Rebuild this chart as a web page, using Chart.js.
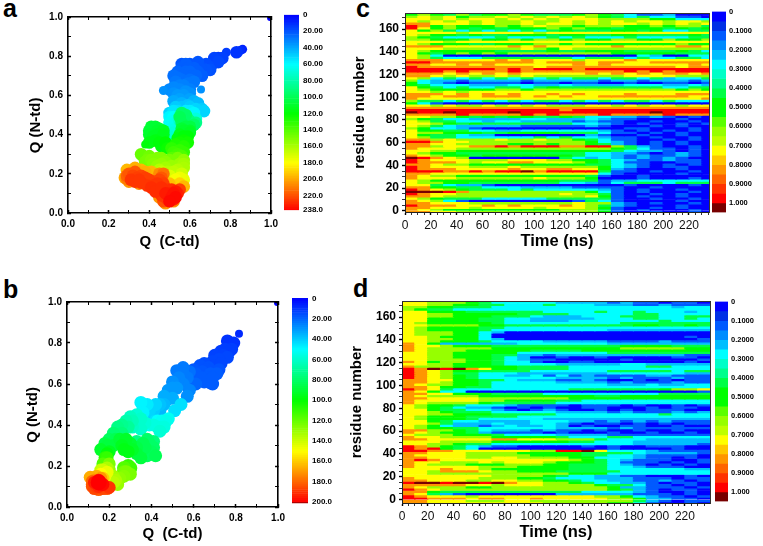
<!DOCTYPE html>
<html><head><meta charset="utf-8">
<style>
html,body{margin:0;padding:0;background:#fff;width:763px;height:546px;overflow:hidden}
canvas{position:absolute;filter:blur(0.35px)}
.tag{position:absolute;font:bold 25px "Liberation Sans",Arial,sans-serif;color:#000;line-height:normal}
</style>
<script src="https://cdn.jsdelivr.net/npm/chart.js@4"></script>
</head><body>
<span class="tag" style="left:3px;top:-6px">a</span>
<span class="tag" style="left:3px;top:275px">b</span>
<span class="tag" style="left:356px;top:-6px">c</span>
<span class="tag" style="left:353px;top:274px">d</span>
<script>
// ---------- DATA ----------
// [Q(C-td), Q(N-td), time, optional marker radius]
const pointsA = [[.995,.995,0,3],[.86,.835,8,4.5],[.85,.83,10,4.5],[.83,.82,12],[.78,.82,14,4.5],[.74,.79,14],[.72,.79,16],[.76,.79,15],[.71,.76,16],[.74,.77,17],[.68,.76,18],[.66,.74,19],[.64,.77,20],[.6,.76,20],[.58,.76,22],[.62,.74,22],[.56,.74,22],[.54,.72,24],[.52,.70,26],[.58,.72,24],[.6,.72,24],[.64,.72,22],[.68,.73,20],[.56,.68,26],[.6,.68,26],[.53,.67,28],[.62,.67,28],[.66,.7,22],[.57,.65,30],[.52,.64,32],[.47,.625,34,4.5],[.5,.63,32],[.55,.63,32],[.6,.63,30],[.655,.63,34,4],[.54,.6,36],[.57,.6,36],[.6,.58,38],[.52,.57,40],[.56,.56,42],[.62,.57,42],[.64,.56,44],[.56,.54,46],[.66,.53,48],[.67,.52,50],[.6,.54,48],[.63,.53,50],[.5,.51,50],[.54,.52,52],[.58,.52,56],[.62,.51,58],[.52,.49,60],[.63,.48,68],[.5,.46,62],[.53,.46,64],[.6,.47,84],[.63,.46,88],[.51,.43,64],[.54,.42,66],[.52,.38,68],[.51,.36,70],
[.56,.76,20],[.59,.74,22],[.61,.7,24],[.57,.7,24],[.54,.69,26],[.65,.74,20],[.69,.75,18],[.7,.73,19],[.63,.7,24],[.59,.66,28],[.55,.65,30],[.52,.61,34],[.58,.62,34],[.6,.61,34],[.55,.58,38],[.59,.55,46],[.53,.54,48],
[.52,.52,54],[.58,.5,60],[.6,.52,56],[.52,.47,62],[.5,.49,58],[.55,.47,72],[.53,.43,66],[.52,.41,68],[.5,.39,70],
[.55,.49,100],[.58,.5,96],[.56,.46,100],[.6,.44,104],[.45,.43,104],[.4,.42,108],[.43,.44,108],[.47,.42,112],[.42,.39,112],[.46,.38,114],[.38,.35,118,4],[.47,.35,118],[.45,.36,118],[.49,.33,122],[.57,.42,110],[.6,.42,110],[.55,.4,114],[.59,.39,118],[.57,.37,122],[.53,.35,126],[.57,.34,128],[.55,.32,132],[.52,.31,134],[.56,.29,138],[.51,.28,140],
[.56,.51,96],[.59,.48,90],[.62,.45,96],[.58,.44,104],[.56,.43,108],[.6,.41,112],[.54,.38,116],[.57,.39,118],[.59,.36,124],[.55,.36,124],[.51,.33,130],[.54,.3,136],[.57,.31,132],[.53,.28,140],
[.41,.44,108],[.44,.42,110],[.4,.4,110],[.44,.4,112],[.47,.4,114],[.43,.37,116],[.46,.34,118],[.48,.36,120],[.4,.36,116],
[.37,.29,144],[.4,.29,146],[.38,.26,148],[.43,.27,150],[.46,.28,150],[.48,.26,152],[.44,.24,155],[.48,.23,158],[.51,.24,156],[.55,.25,156],[.57,.27,154],[.57,.23,160],[.52,.21,164],[.56,.2,168],[.46,.21,166],[.57,.17,175],[.53,.17,178],
[.36,.3,144],[.39,.27,148],[.41,.27,150],[.44,.28,150],[.42,.25,152],[.46,.25,154],[.5,.27,148],[.54,.28,148],[.49,.21,162],[.54,.22,162],[.57,.25,158],[.45,.22,162],[.5,.19,172],[.55,.18,176],
[.55,.15,190],[.57,.135,196],[.5,.15,194],[.48,.13,196],[.46,.11,198],[.29,.22,196],[.33,.23,198],[.38,.21,198],[.41,.21,196],[.28,.18,200],[.3,.16,204],[.35,.15,206],[.45,.08,204],[.48,.05,204],[.52,.06,206],[.45,.2,206],[.36,.22,196],[.42,.2,196],
[.47,.2,212],[.3,.2,218],[.46,.18,218],[.32,.19,222],[.46,.16,222],[.34,.18,224],[.37,.17,224],[.31,.17,226],[.36,.155,226],[.39,.14,226],[.44,.15,226],[.48,.08,226],[.41,.13,228],[.43,.11,228],[.46,.13,228],[.5,.1,230],[.53,.11,232],[.48,.1,232],[.51,.08,234],[.52,.1,234],[.53,.08,236],[.5,.06,236],
[.29,.19,216],[.29,.175,210],[.33,.21,218],[.36,.19,222],[.38,.18,224],[.4,.17,224],[.33,.16,226],[.35,.17,226],[.42,.14,226],[.44,.12,226],[.47,.15,224],[.45,.17,222],[.46,.09,226],[.47,.06,220],[.49,.07,226],[.52,.07,230],[.54,.1,230],[.55,.12,224],[.51,.12,228],[.49,.12,226],[.47,.12,224]];

const pointsB = [[.995,.995,0,3],[.815,.845,8,4],[.76,.81,10],[.79,.8,10],[.78,.77,12],[.75,.77,12],[.73,.76,12],[.7,.74,13],[.76,.73,14],[.72,.72,14],[.69,.71,14],[.65,.7,15],[.63,.69,16],[.67,.68,16],[.6,.67,17],[.72,.67,16],[.64,.66,17],[.68,.65,18],[.71,.65,18],[.62,.63,18],[.66,.63,18],[.68,.605,18],[.69,.6,18],[.65,.61,18],[.61,.6,20],
[.66,.67,16],[.7,.69,14],[.61,.65,18],[.74,.74,13],[.77,.76,12],[.73,.7,14],[.64,.63,18],[.69,.63,18],
[.55,.68,24],[.52,.665,24],[.58,.66,22],[.57,.63,24],[.55,.6,26],[.58,.57,26],[.57,.54,28],[.5,.61,28],[.53,.63,26],[.48,.57,30],[.52,.58,30],[.46,.54,34],[.5,.53,34],[.54,.5,44],[.51,.47,44],[.46,.5,36],[.44,.47,36],[.42,.5,42],[.38,.5,46],[.35,.51,48],[.36,.46,48],[.38,.43,40],[.41,.44,38],[.45,.42,52],[.47,.42,54],[.48,.43,52],[.43,.39,56],[.44,.37,58],[.41,.4,56],[.35,.43,60],[.3,.44,62],[.34,.41,58],[.28,.42,66],[.31,.39,62],[.35,.38,60],[.24,.39,74],[.22,.36,78],[.26,.36,76],[.33,.32,74],[.41,.32,76],[.38,.33,80],[.41,.29,80],[.2,.33,82],[.38,.25,82],[.35,.27,84],[.37,.29,84],[.42,.25,84],[.18,.31,86],[.22,.3,88],[.33,.26,88],[.16,.28,92],[.28,.33,92],[.31,.28,92],[.26,.3,94],[.27,.28,96],[.19,.26,98],
[.52,.6,26],[.55,.65,24],[.5,.58,30],[.47,.52,34],[.44,.5,38],[.41,.47,40],[.39,.47,42],[.36,.49,46],[.42,.42,44],[.39,.4,52],[.46,.39,56],[.43,.42,50],[.37,.41,58],[.33,.45,58],[.31,.42,64],[.29,.39,70],[.26,.4,72],[.23,.33,84],[.19,.3,88],[.2,.27,94],[.25,.33,90],[.3,.31,90],[.29,.27,96],[.36,.31,84],[.39,.31,80],[.4,.27,82],[.35,.24,88],[.33,.29,86],
[.18,.24,108],[.19,.24,110],[.29,.2,110,7],[.17,.21,116],[.27,.19,116,7],[.3,.19,112,7],[.27,.17,122,7],[.2,.21,124],[.3,.16,124],[.28,.17,124,7],[.27,.15,126],[.2,.18,128],[.25,.14,128],[.24,.11,130],[.22,.15,132],[.19,.19,134],[.23,.13,134],[.22,.12,136],[.16,.18,138],[.17,.18,140],[.18,.15,146],[.18,.16,146],[.19,.17,146],[.16,.16,150],[.17,.14,160],[.14,.15,165],[.11,.145,166],[.16,.14,170],[.13,.13,172],[.12,.11,180],[.12,.125,180],[.15,.085,182],[.19,.09,184],[.12,.1,184],[.13,.09,186],[.17,.09,186],[.14,.1,188],[.2,.095,190],[.14,.12,192],[.15,.1,192],[.13,.12,194],[.16,.11,194],[.15,.13,196],[.17,.11,198],[.15,.12,200,8]];

const barTicksA = [0,20,40,60,80,100,120,140,160,180,200,220,238];
const barLabelsA = ["0","20.00","40.00","60.00","80.00","100.0","120.0","140.0","160.0","180.0","200.0","220.0","238.0"];
const barTicksB = [0,20,40,60,80,100,120,140,160,180,200];
const barLabelsB = ["0","20.00","40.00","60.00","80.00","100.0","120.0","140.0","160.0","180.0","200.0"];
const barTicksHeat = [0,.1,.2,.3,.4,.5,.6,.7,.8,.9,1];
const barLabelsHeat = ["0","0.1000","0.2000","0.3000","0.4000","0.5000","0.6000","0.7000","0.8000","0.9000","1.000"];
const stepColors = ["#0000ff","#0030e6","#005aff","#008cff","#00beff","#00ffff","#00ffc8","#00ff8c","#00ff46","#00ff00","#00ff00","#5aff00","#96ff00","#beff00","#ffff00","#ffc800","#ff9600","#ff6400","#ff3200","#ff0000","#780000"];
// digit code of a heat cell -> value
const cellValues = {0:0,1:.1,2:.2,3:.25,4:.4,5:.5,6:.6,7:.7,8:.8,9:.95,X:1};
const timeCols = [5,15,25,35,45,55,65,75,85,95,105,115,125,135,145,155,165,175,185,195,205,215,225,235];

// one string per 2 residues, top row first; one character per 10 ns
const rowsC = [
"565464556544456543112000","676756676767676543433110","776767767676777666655333","767676766766767676776776","887776766767767677676767",
"985655565676656665565664","975654545556565545554545","756434343434544455453344","777767777767777777777777","765545445554554455444454",
"654333343334343334333344","665556556566565566556556","777677777777777777777777","765554455566565555555655","888777778787777787777887",
"777666666765766666666666","765555544445445554444543","754565656666666655555444","763000000000000000320033","764333444444434443433443",
"888777787877767778777777","998888888878887887788888","887787877777787877777787","988888888878888888888788","999999989899989999999999",
"999898889888888889898999","888787878777778787878878","887676676766666667777666","763434343434344344342334","632212222122222122122212",
"532101111011011001001101","543332223322322223332232","754343344345444444443344","765555566566666666666565","776767777777777777777777",
"888787878778787778777888","887887888787877888888877","877777777777777777777778","644343434344343434434333","531000000000000000000000",
"776766767676667767677677","888888888888888888888888","999999999999899999999999","X99X9999X9999999999X9999","888898888989888988889888",
"776654545544543322121010","654332222332223211000100","764433233222212110010010","776545444444433210100101","764322222111112100010100",
"653321000000000001100010","755443322333333210101010","766555445555444311010100","754432200000002100100100","764433333343433211010010",
"886766676676654311001010","998776666666665321010100","887766665565665421010100","886778898999889964210010","877766666666666654311010",
"776655555555555543221010","765544444444443322101210","876554555555543321211210","X98760000000432321212100","987776667776655432112110",
"988876778877765431100110","887665555555554432101010","987776667666666532101100","988877778778877521000100","999889899X89999411010010",
"887777777777777310000100","876655555555554100100000","877766666676665000100010","765555555555444122333333","766554444444332134443444",
"774322100000000001000010","885544333222211110010000","987654443433333210100100","XXX986666666665310100010","987766666666766410010100",
"887666666666667510100100","765444333334444410010010","876310000000014310000100","887776666666676621010010","988877878777876421000100",
"887776777767776510010100","876555555555666410100010","887766666666666510010010"];

const rowsD = [
"776665433333222212110110","776655443334333222112111","665544433333333333333233","654433333333333333333333","775554444443333433433323",
"776655555444433333443333","776655544432223334443344","775555443322222333443343","775555443322233333334333","765555543333333334444444",
"776666554444444444554454","765555443333333333333333","765555433333333322222222","766655320000000000000000","766655300000000000000000",
"776555300000000000000010","776655320000000000000001","776555433332222211112111","875222222333333322222222","877655544444444445555444",
"876666655555555556666655","876665555544445555555555","776655555333333344444444","776655544221222222222211","776655543200100100000110",
"776665543211000001000001","875665543310011000000010","776655543333222223322222","866655555444433333344333","98X9X8755444433333333333",
"987655444433333344444344","987644333222222233333322","987654332231312111122111","987654333333222212111211","887755443222112100101011",
"887655433333222212111211","876655433333333322232233","887554433333333333333333","987433333333344444445667","875330000000000000000001",
"887755544443333333334444","876666555555555445555555","887777666666655555555555","877777665555443333333333","876666544444333333333333",
"765543332111101110100101","765432210101001100010110","775443321012100101011100","776544433333222212111212","776655544444333333334333",
"765554444333333333333333","765554333332222222222222","775433222233322121212111","776422232233210110101011","765322123223201001100100",
"765544333333222212111111","886654322212110100100100","876554211110100010010010","766655543333222211111111","877666655555433344333333",
"887777788777666433322222","777666655555544333222222","776654433333333333222221","986543211000001010011100","989543000000000010000100",
"99887777776699X733321111","887776666555554444322221","877776666655554433211110","887776677666655333211010","898777777777765432111001",
"877666767776555431110101","876665556665544432101010","877777666555544433211100","777877655555544433333322","776888766555444443333333",
"776666666666655533333333","777777766665433221100010","877777666554333222111011","887776677665543322112101","9XX9XX9X8776654332210110",
"888887767776666544311010","876665566666666652211101","987666666666666654210110","885444444444443333210010","874210000000222222111010",
"987776777777777665321101","998887887787777766522110","887776667766666666421011","887777777776666655310010"];

// ---------- HELPERS ----------
const FAM = '"Liberation Sans",Arial,sans-serif';
const PAD_T = 8, PAD_R = 14;
function mk(left, top, w, h){
  const c = document.createElement('canvas');
  c.width = w; c.height = h;
  c.style.left = left + 'px'; c.style.top = top + 'px';
  c.style.width = w + 'px'; c.style.height = h + 'px';
  document.body.appendChild(c);
  return c.getContext('2d');
}
const fixW = w => s => { s.width = w; };
const fixH = h => s => { s.height = h; };
const base = { responsive:false, animation:false, events:[], plugins:{legend:{display:false},tooltip:{enabled:false}} };
function jet(t, stops){
  const cols = [[0,0,255],[0,255,255],[0,255,0],[255,255,0],[255,0,0]];
  let i = 0; while (i < 3 && t > stops[i+1]) i++;
  const f = Math.min(1, Math.max(0, (t - stops[i]) / (stops[i+1] - stops[i])));
  const c = cols[i].map((v,k) => Math.round(v + (cols[i+1][k]-v)*f));
  return `rgb(${c})`;
}
function geom(g){
  const lh = g.titleLH;
  const L = g.yTitleX - lh/2, W = g.l - L;
  const H = g.xTitleY + lh/2 - g.b;
  return {L, W, H, top:g.t - PAD_T, cw:g.r + PAD_R - L, ch:PAD_T + (g.b - g.t) + H};
}
const qTicks = [0,.1,.2,.3,.4,.5,.6,.7,.8,.9,1];

function scatterPanel(g, pts, stops, radius, xTitle, yTitle){
  const m = geom(g);
  const sorted = pts.slice().sort((a,b)=>a[2]-b[2]);
  const setQ = s => { s.ticks = qTicks.map(v=>({value:v})); };
  const grid = {drawOnChartArea:false, color:'#000', tickLength:-3, z:1,
                tickWidth:c=>c.index%2===0?1.5:1};
  const lab = (v,i)=> i%2===0 ? v.toFixed(1) : '';
  const tickFont = {family:FAM, weight:'bold', size:10};
  const title = (text)=>({display:true,text,color:'#000',padding:0,font:{family:FAM,weight:'bold',size:15}});
  new Chart(mk(m.L,m.top,m.cw,m.ch),{
    type:'scatter',
    data:{datasets:[{
      data:sorted.map(p=>({x:p[0],y:p[1]})),
      backgroundColor:sorted.map(p=>jet(p[2],stops)),
      pointRadius:sorted.map(p=>p[3]||radius),
      borderWidth:0
    }]},
    options:{...base,layout:{padding:{top:PAD_T,right:PAD_R,left:0,bottom:0}},
      scales:{
        x:{type:'linear',min:0,max:1,position:'bottom',afterBuildTicks:setQ,afterFit:fixH(m.H),
           grid,border:{color:'#000',width:1.6,z:1},title:title(xTitle),
           ticks:{color:'#000',font:tickFont,padding:8,maxRotation:0,autoSkip:false,callback:lab}},
        y:{type:'linear',min:0,max:1,position:'left',afterBuildTicks:setQ,afterFit:fixW(m.W),
           grid,border:{color:'#000',width:1.6,z:1},title:title(yTitle),
           ticks:{color:'#000',font:tickFont,padding:8,autoSkip:false,callback:lab}},
        x2:{type:'linear',axis:'x',min:0,max:1,position:'top',afterBuildTicks:setQ,afterFit:fixH(0),
            grid,border:{color:'#000',width:1.6,z:1},ticks:{display:false,autoSkip:false}},
        y2:{type:'linear',axis:'y',min:0,max:1,position:'right',afterBuildTicks:setQ,afterFit:fixW(0),
            grid,border:{color:'#000',width:1.6,z:1},ticks:{display:false,autoSkip:false}}
      }}
  });
}

function heatPanel(g, rows, yMin, xMax, topRes){
  const m = geom(g);
  const cellW = 10*(g.r-g.l)/xMax + 0.6;
  const datasets = rows.map((row,i)=>{
    const hi = topRes - 2*i, lo = hi - 2;
    const chars = row.split('');
    return {
      data:chars.map((ch,j)=>({x:timeCols[j],y:[lo,hi]})),
      backgroundColor:chars.map(ch=>stepColors[Math.round(cellValues[ch]/.05)]),
      borderWidth:0,grouped:false,barThickness:cellW
    };
  });
  const xT=[]; for(let v=0;v<=xMax;v+=5) xT.push(v);
  const yT=[]; for(let v=0;v<=172;v+=5) yT.push(v);
  const gridBase = {drawOnChartArea:false,color:'#000',tickLength:3,z:1,offset:false};
  const title = (text,size)=>({display:true,text,color:'#000',padding:0,font:{family:FAM,weight:'bold',size}});
  new Chart(mk(m.L,m.top,m.cw,m.ch),{
    type:'bar',
    data:{datasets},
    options:{...base,layout:{padding:{top:PAD_T,right:PAD_R,left:0,bottom:0}},
      scales:{
        x:{type:'linear',min:0,max:xMax,offset:false,position:'bottom',
           afterBuildTicks:s=>{s.ticks=xT.map(v=>({value:v}));},afterFit:fixH(m.H),
           grid:{...gridBase,tickWidth:c=>c.tick.value%20===0?1.4:.8},
           border:{color:'#222',width:1,z:1},title:title('Time (ns)',16.5),
           ticks:{color:'#111',font:{family:FAM,size:12},padding:3,maxRotation:0,autoSkip:false,
                  callback:v=>v%20===0?String(v):''}},
        y:{type:'linear',min:yMin,max:174,position:'left',beginAtZero:false,
           afterBuildTicks:s=>{s.ticks=yT.map(v=>({value:v}));},afterFit:fixW(m.W),
           grid:{...gridBase,tickWidth:c=>c.tick.value%20===0?1.4:.8},
           border:{color:'#222',width:1,z:1},title:title('residue number',15),
           ticks:{color:'#000',font:{family:FAM,size:12,weight:'bold'},padding:3,autoSkip:false,
                  callback:v=>v%20===0?String(v):''}},
        x2:{type:'linear',axis:'x',min:0,max:xMax,position:'top',afterFit:fixH(0),
            grid:{display:false},border:{color:'#333',width:1,z:1},ticks:{display:false}},
        y2:{type:'linear',axis:'y',min:yMin,max:174,position:'right',afterFit:fixW(0),
            grid:{display:false},border:{color:'#333',width:1,z:1},ticks:{display:false}}
      }}
  });
}

function colorBar(b, steps, min, max, tickVals, tickLabs, fontSize, gap){
  const pad = 7, labelW = 42;
  const datasets = steps.map(s=>({data:[[s[0],s[1]]],backgroundColor:s[2],borderWidth:0,grouped:false,barPercentage:1,categoryPercentage:1}));
  new Chart(mk(b.l,b.t-pad,(b.r-b.l)+labelW,(b.b-b.t)+2*pad),{
    type:'bar',
    data:{labels:[''],datasets},
    options:{...base,layout:{padding:{top:pad,bottom:pad,left:0,right:0}},
      scales:{
        x:{display:false},
        y:{type:'linear',reverse:true,min,max,position:'right',beginAtZero:false,afterFit:fixW(labelW),
           afterBuildTicks:s=>{s.ticks=tickVals.map(v=>({value:v}));},
           grid:{display:false,drawTicks:false},border:{display:false},
           ticks:{color:'#000',padding:gap,autoSkip:false,font:{family:FAM,weight:'bold',size:fontSize},
                  callback:(v,i)=>tickLabs[i]}}
      }}
  });
}
function ramp(max, step, stops, end){
  const out=[]; for(let t=0;t<end;t+=step) out.push([t,t+step,t>=stops[4]?'#b00000':jet(t+step/2,stops)]);
  return out;
}

// ---------- PANELS ----------
const stopsA=[0,60,120,180,238], stopsB=[0,50,100,150,200];
scatterPanel({l:68,t:11,r:272,b:213,yTitleX:36,xTitleY:242,titleLH:18},pointsA,stopsA,6.3,'Q  (C-td)','Q (N-td)     ');
colorBar({l:284,t:13,r:299,b:212},ramp(238,2,stopsA,238),0,238,barTicksA,barLabelsA,8,4);

scatterPanel({l:67,t:296,r:279,b:507,yTitleX:33,xTitleY:534,titleLH:18},pointsB,stopsB,6.5,'Q  (C-td)','Q (N-td)     ');
colorBar({l:292,t:296,r:308,b:505},ramp(201,2,stopsB,201),-.5,201.5,barTicksB,barLabelsB,8,4);

const heatSteps = stepColors.map((c,i)=>[i*.05,(i+1)*.05,c]);
heatPanel({l:405,t:11,r:709,b:212,yTitleX:360,xTitleY:242,titleLH:18},rowsC,-1,235.5,174);
colorBar({l:712,t:11,r:726,b:213},heatSteps,0,1.05,barTicksHeat,barLabelsHeat,7.5,3);

heatPanel({l:402,t:299,r:710,b:503,yTitleX:357,xTitleY:533,titleLH:18},rowsD,-3,239.5,174);
colorBar({l:715,t:301,r:728,b:502},heatSteps,0,1.05,barTicksHeat,barLabelsHeat,7.5,3);
</script>
</body></html>
